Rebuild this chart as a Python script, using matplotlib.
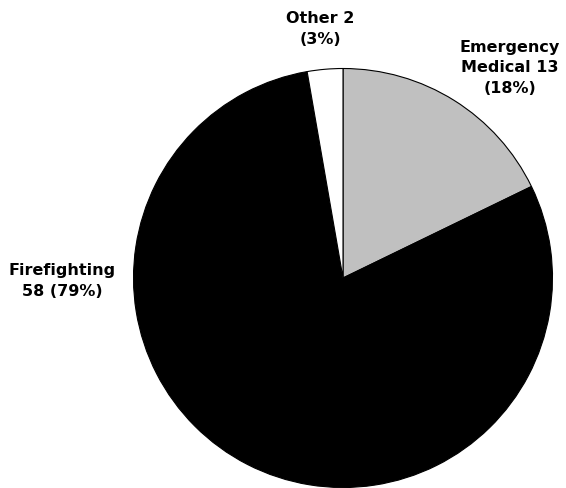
import matplotlib.pyplot as plt

categories = ["Emergency\nMedical", "Firefighting", "Other"]
counts = [13, 58, 2]
percents = [18, 79, 3]
colors = ["#c0c0c0", "#000000", "#ffffff"]

fig = plt.figure(figsize=(5.66, 4.88), dpi=100)
ax = fig.add_axes([0, 0, 1, 1])

ax.pie(counts, colors=colors, startangle=90, counterclock=False,
       center=(343, 210), radius=209.5,
       wedgeprops=dict(edgecolor="black", linewidth=0.8))

# pie() resets the limits, so set them afterwards
ax.set_xlim(0, 566)
ax.set_ylim(0, 488)
ax.set_aspect("equal")
ax.axis("off")

font = dict(fontsize=11.5, fontweight="bold", family="DejaVu Sans",
            ha="center", va="center", linespacing=1.45)
ax.text(510, 420, f"{categories[0]} {counts[0]}\n({percents[0]}%)", **font)
ax.text(62, 207, f"{categories[1]}\n{counts[1]} ({percents[1]}%)", **font)
ax.text(320, 459, f"{categories[2]} {counts[2]}\n({percents[2]}%)", **font)

fig.savefig("out.png", dpi=100)
